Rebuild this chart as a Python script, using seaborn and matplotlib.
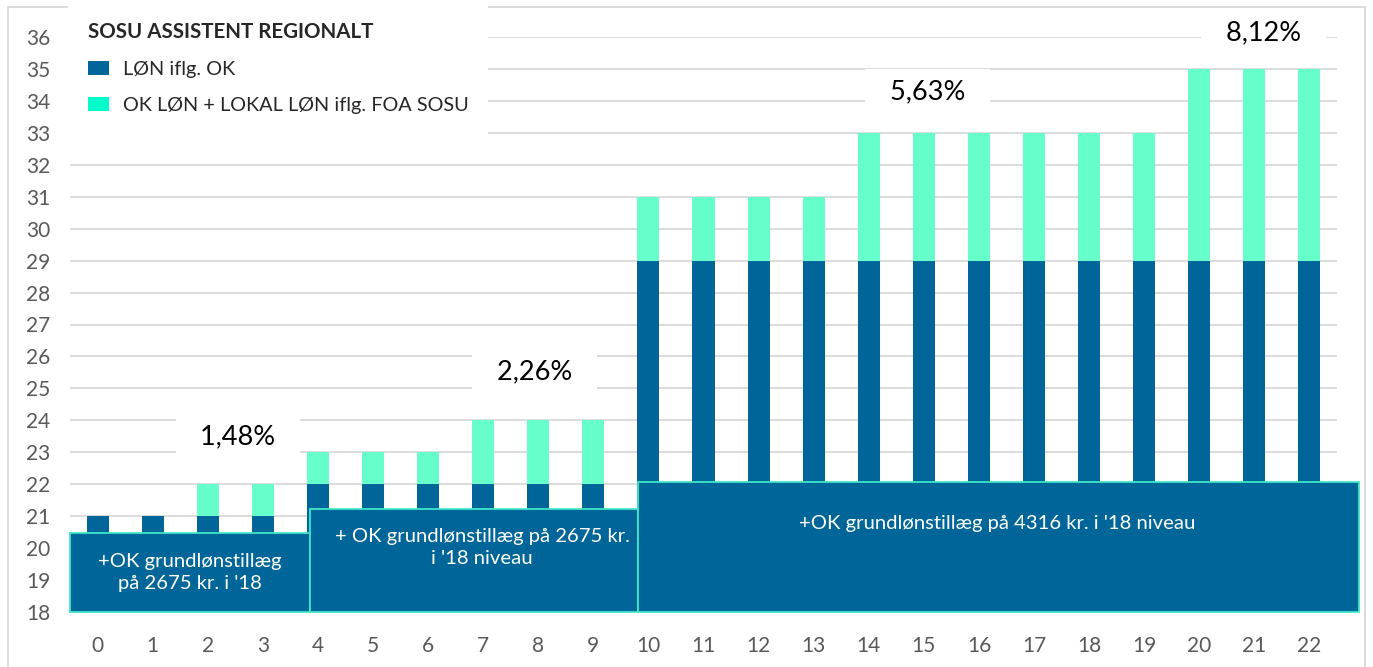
import matplotlib
matplotlib.use("Agg")
import matplotlib.pyplot as plt
from matplotlib.patches import Rectangle, Patch
import seaborn as sns
import pandas as pd

# ---- data ----
trin = list(range(23))
lon_ok = [21, 21, 21, 21, 22, 22, 22, 22, 22, 22,
          29, 29, 29, 29, 29, 29, 29, 29, 29, 29, 29, 29, 29]
lon_lokal = [21, 21, 22, 22, 23, 23, 23, 24, 24, 24,
             31, 31, 31, 31, 33, 33, 33, 33, 33, 33, 35, 35, 35]
series_names = ["LØN iflg. OK", "OK LØN + LOKAL LØN iflg. FOA SOSU"]
legend_title = "SOSU ASSISTENT REGIONALT"

pct_labels = ["1,48%", "2,26%", "5,63%", "8,12%"]
pct_x = [2.55, 7.94, 15.07, 21.17]
pct_y = [23.48, 25.51, 34.28, 36.13]

box_labels = ["+OK grundlønstillæg\npå 2675 kr. i '18",
              "+ OK grundlønstillæg på 2675 kr.\ni '18 niveau",
              "+OK grundlønstillæg på 4316 kr. i '18 niveau"]
box_x0 = [-0.5, 3.86, 9.82]
box_x1 = [3.86, 9.82, 22.9]
box_top = [20.47, 21.22, 22.07]
box_text_x = [1.68, 6.98, 16.34]
box_text_y = [19.25, 20.03, 20.76]

DARK = "#006699"
LIGHT = "#66FFCC"
LIGHT_HANDLE = "#00FFCC"
EDGE = "#3FE6C8"
GRID = "#D9D9D9"
TICK = "#595959"

sns.set_style("white")
plt.rcParams["font.family"] = ["Lato", "DejaVu Sans"]

W, H = 1373, 667
fig = plt.figure(figsize=(W / 100, H / 100), dpi=100)
fig.patch.set_facecolor("white")
ax = fig.add_axes([70 / W, 55 / H, (1337 - 70) / W, (612 - 37) / H])
ax.set_facecolor("none")

df = pd.DataFrame({"trin": trin, "ok": lon_ok, "lokal": lon_lokal})
sns.barplot(data=df, x="trin", y="lokal", color=LIGHT, saturation=1,
            width=0.4, linewidth=0, ax=ax, zorder=2)
sns.barplot(data=df, x="trin", y="ok", color=DARK, saturation=1,
            width=0.4, linewidth=0, ax=ax, zorder=2)

ax.set_xlim(-0.5, 22.5)
ax.set_ylim(18, 36)
ax.set_yticks(range(18, 37))
ax.set_xlabel("")
ax.set_ylabel("")
ax.yaxis.grid(True, color=GRID, linewidth=1.3)
ax.set_axisbelow(True)
for s in ax.spines.values():
    s.set_visible(False)
ax.tick_params(axis="both", length=0, labelcolor=TICK, labelsize=15)
ax.tick_params(axis="x", pad=17)
ax.tick_params(axis="y", pad=14)

# boxes with text
for x0, x1, top, lab, tx, ty in zip(box_x0, box_x1, box_top, box_labels,
                                     box_text_x, box_text_y):
    ax.add_patch(Rectangle((x0, 18), x1 - x0, top - 18, facecolor=DARK,
                           edgecolor=EDGE, linewidth=1.3, clip_on=False,
                           zorder=3))
    ax.text(tx, ty, lab, color="white", ha="center", va="center",
            fontsize=14.6, linespacing=1.35, zorder=4, clip_on=False)

# percentage labels
for lab, x, y in zip(pct_labels, pct_x, pct_y):
    ax.text(x, y, "  " + lab + "  ", ha="center", va="center", fontsize=19.5,
            color="black", zorder=5, clip_on=False,
            bbox=dict(boxstyle="square,pad=0.4", facecolor="white",
                      edgecolor="none"))

# legend
handles = [Patch(facecolor=DARK, edgecolor="none"),
           Patch(facecolor=LIGHT_HANDLE, edgecolor="none")]
leg = ax.legend(handles, series_names, title=legend_title,
                loc="upper left", bbox_to_anchor=(58 / W, 1.0 + 8 / H),
                bbox_transform=fig.transFigure, frameon=True,
                facecolor="white", edgecolor="none", framealpha=1,
                fancybox=False, fontsize=14.3, borderpad=1.0,
                handlelength=1.05, handleheight=0.75, handletextpad=0.7,
                labelspacing=0.95, alignment="left",
                title_fontproperties={"weight": "bold", "size": 14.8})
leg.set_zorder(6)

# outer chart frame
fig.add_artist(Rectangle((8 / W, -0.01), (1365 - 8) / W, 1 - 7 / H + 0.01,
                         transform=fig.transFigure, fill=False,
                         edgecolor=GRID, linewidth=1.3, zorder=-1))

fig.savefig("out.png", dpi=100, facecolor="white")
